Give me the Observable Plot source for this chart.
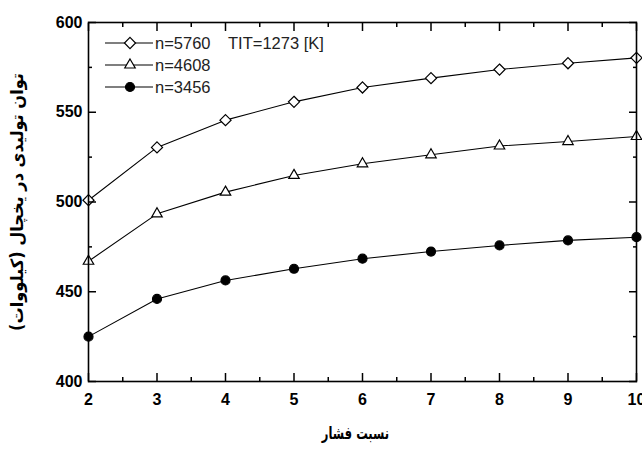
<!DOCTYPE html>
<html>
<head>
<meta charset="utf-8">
<script src="https://cdn.jsdelivr.net/npm/d3@7"></script>
<script src="https://cdn.jsdelivr.net/npm/@observablehq/plot@0.6"></script>
<style>
  html, body { margin: 0; padding: 0; background: #fff; }
  #chart { position: relative; width: 642px; height: 452px; }
  #legend { position: absolute; left: 0; top: 0; pointer-events: none; }
</style>
</head>
<body>
<div id="chart"></div>
<script>
// Pressure ratio on the x axis
const ratios = [2, 3, 4, 5, 6, 7, 8, 9, 10];

// Power output (kW) for each turbine speed
const power5760 = [501, 530.4, 545.6, 555.8, 563.8, 569, 573.8, 577.3, 580.3];
const power4608 = [467, 493.4, 505.5, 514.8, 521.3, 526.3, 531.2, 533.7, 536.5];
const power3456 = [425, 446, 456.3, 462.8, 468.4, 472.4, 475.8, 478.6, 480.4];

const seriesNames = ["n=5760", "n=4608", "n=3456"];
const seriesSymbols = ["diamond2", "triangle2", "circle"];
const seriesFills = ["white", "white", "black"];
const tempNote = "TIT=1273 [K]";

const xTicks = [2, 3, 4, 5, 6, 7, 8, 9, 10];
const xMinorTicks = [2.5, 3.5, 4.5, 5.5, 6.5, 7.5, 8.5, 9.5];
const yTicks = [400, 450, 500, 550, 600];
const yMinorTicks = [425, 475, 525, 575];

const xTitle = "نسبت فشار";
const yTitle = "توان تولیدی در یخچال (کیلووات)";

const allSeries = [power5760, power4608, power3456];
const rows = [];
allSeries.forEach((vals, s) => {
  ratios.forEach((r, i) => rows.push({series: seriesNames[s], ratio: r, power: vals[i]}));
});

const tickFont = "'Liberation Sans', Arial, sans-serif";
const titleFont = "'DejaVu Sans', sans-serif";

const W = 642, H = 452;
const M = {left: 88, right: 6, top: 22, bottom: 71};

const plot = Plot.plot({
  width: W,
  height: H,
  marginLeft: M.left,
  marginRight: M.right,
  marginTop: M.top,
  marginBottom: M.bottom,
  x: {domain: [2, 10]},
  y: {domain: [400, 600]},
  style: {background: "white", color: "black", fontFamily: tickFont},
  marks: [
    // curves
    ...seriesNames.map((name) =>
      Plot.line(rows.filter((d) => d.series === name), {x: "ratio", y: "power", stroke: "black", strokeWidth: 1.1})
    ),
    ...seriesNames.map((name, s) =>
      Plot.dot(rows.filter((d) => d.series === name), {
        x: "ratio", y: "power",
        symbol: () => seriesSymbols[s],
        r: s === 2 ? 4.5 : 5,
        fill: seriesFills[s], stroke: "black", strokeWidth: 1.2
      })
    ),
    // bottom axis: inward ticks and bold labels
    Plot.axisX({ticks: xTicks, tickSize: -8, tickPadding: 20, fontSize: 16, fontWeight: "bold", strokeWidth: 1.5, label: null}),
    Plot.axisX({ticks: xMinorTicks, tickSize: -4, fill: "none", strokeWidth: 1.5, label: null}),
    Plot.axisX({anchor: "top", ticks: xTicks, tickSize: -8, fill: "none", strokeWidth: 1.5, label: null}),
    Plot.axisX({anchor: "top", ticks: xMinorTicks, tickSize: -4, fill: "none", strokeWidth: 1.5, label: null}),
    // left axis
    Plot.axisY({ticks: yTicks, tickSize: -8, tickPadding: 14, fontSize: 16, fontWeight: "bold", strokeWidth: 1.5, label: null}),
    Plot.axisY({ticks: yMinorTicks, tickSize: -4, fill: "none", strokeWidth: 1.5, label: null}),
    Plot.axisY({anchor: "right", ticks: yTicks, tickSize: -8, fill: "none", strokeWidth: 1.5, label: null}),
    Plot.axisY({anchor: "right", ticks: yMinorTicks, tickSize: -4, fill: "none", strokeWidth: 1.5, label: null}),
    Plot.frame({stroke: "black", strokeWidth: 1.6}),
    // axis titles
    Plot.text([xTitle], {className: "x-title", frameAnchor: "bottom", dx: -7, dy: 57, fontSize: 17, fontWeight: "bold", fontFamily: titleFont}),
    Plot.text([yTitle], {className: "y-title", frameAnchor: "middle", fontSize: 17, fontWeight: "bold", fontFamily: titleFont})
  ]
});

const chart = document.getElementById("chart");
chart.appendChild(plot);

// Squeeze the Persian titles along their baseline to a set length
const xNode = plot.querySelector(".x-title text");
if (xNode) {
  const k = Math.min(1, 68 / xNode.getBBox().width);
  xNode.setAttribute("transform", `${xNode.getAttribute("transform") || ""} scale(${k},1)`);
}
// y title: rotated reading upward, centred beside the left axis
const yNode = plot.querySelector(".y-title text");
if (yNode) {
  const k = Math.min(1, 258 / yNode.getBBox().width);
  const cx = M.left - 66;
  const cy = (M.top + H - M.bottom) / 2;
  yNode.removeAttribute("x");
  yNode.removeAttribute("y");
  yNode.setAttribute("transform", `translate(${cx},${cy}) rotate(-90) scale(${k},1)`);
}

// Legend drawn over the upper-left corner of the plot
const legend = d3.select(chart).append("svg")
  .attr("id", "legend")
  .attr("width", W)
  .attr("height", 110);

const symbolTypes = {diamond2: d3.symbolDiamond2, triangle2: d3.symbolTriangle2, circle: d3.symbolCircle};
const rowY = [43, 65, 87];
seriesNames.forEach((name, s) => {
  const g = legend.append("g").attr("transform", `translate(0,${rowY[s]})`);
  g.append("line").attr("x1", 105).attr("x2", 153).attr("stroke", "black").attr("stroke-width", 1.1);
  const r = s === 2 ? 4.5 : 5;
  g.append("path")
    .attr("transform", "translate(130,0)")
    .attr("d", d3.symbol(symbolTypes[seriesSymbols[s]], Math.PI * r * r)())
    .attr("fill", seriesFills[s]).attr("stroke", "black").attr("stroke-width", 1.2);
  g.append("text").attr("x", 155).attr("dy", "0.35em")
    .attr("font-family", tickFont).attr("font-size", 16.5).attr("fill", "#222")
    .text(name);
  if (s === 0) {
    g.append("text").attr("x", 228).attr("dy", "0.35em")
      .attr("font-family", tickFont).attr("font-size", 16.5).attr("fill", "#222")
      .text(tempNote);
  }
});
</script>
</body>
</html>
